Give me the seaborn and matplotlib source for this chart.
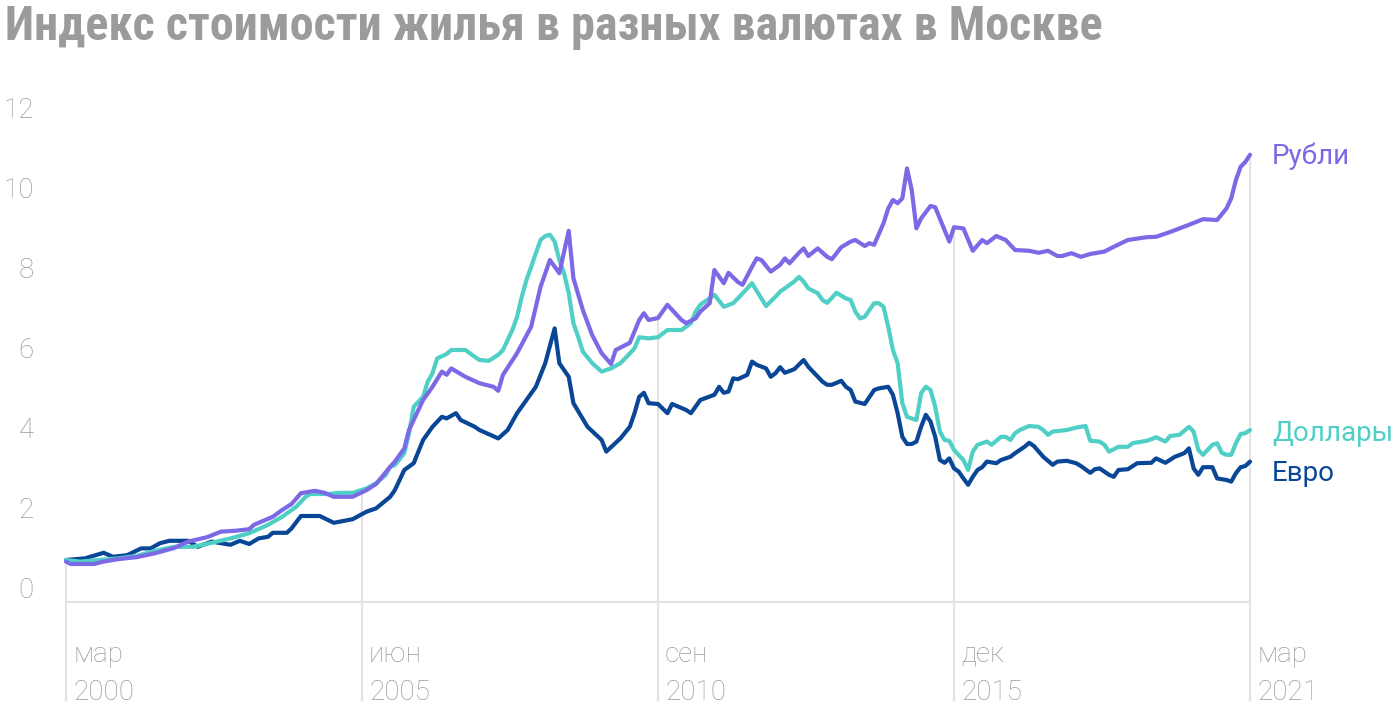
import numpy as np
import pandas as pd
import matplotlib
matplotlib.use("Agg")
import matplotlib.pyplot as plt
import seaborn as sns
from matplotlib import font_manager

# ---------------- data (months since March 2000) ----------------
rub_months = [0, 1, 6, 8, 11, 15, 19, 23, 26, 30, 33, 36, 39, 40, 44, 46, 48, 50, 53, 55,
              57, 61, 64, 66, 69, 70, 72, 73, 75, 76, 78, 80, 81, 82, 85, 88, 91, 92, 93, 96,
              99, 101, 103, 105, 107, 108, 110, 112, 114, 116, 117, 120, 122, 123, 124, 126,
              128, 131, 132, 134, 135, 137, 138, 140, 141, 143, 144, 146, 147, 148, 150, 152,
              153, 154, 156, 157, 158, 160, 162, 163, 165, 167, 168, 170, 171, 172, 174, 175,
              176, 177, 178, 179, 180, 181, 182, 184, 185, 187, 188, 189, 191, 193, 195, 196,
              198, 200, 202, 205, 207, 209, 211, 212, 214, 216, 218, 221, 223, 226, 230, 232,
              235, 239, 242, 245, 247, 248, 249, 250, 251, 252]
rub_values = [1.01, 0.95, 0.95, 1.01, 1.07, 1.12, 1.22, 1.35, 1.51, 1.62, 1.76, 1.78, 1.82, 1.93,
              2.13, 2.30, 2.45, 2.72, 2.78, 2.73, 2.63, 2.63, 2.80, 2.95, 3.38, 3.51, 3.84, 4.30,
              4.80, 5.05, 5.38, 5.76, 5.68, 5.84, 5.63, 5.47, 5.38, 5.28, 5.68, 6.22, 6.88, 7.88,
              8.55, 8.22, 9.28, 8.09, 7.30, 6.67, 6.22, 5.95, 6.30, 6.48, 7.05, 7.22, 7.05, 7.10,
              7.43, 7.05, 6.97, 7.09, 7.26, 7.47, 8.30, 7.97, 8.23, 8.00, 7.93, 8.38, 8.59, 8.55,
              8.26, 8.43, 8.59, 8.47, 8.73, 8.84, 8.65, 8.84, 8.63, 8.57, 8.87, 9.01, 9.05, 8.90,
              8.97, 8.93, 9.47, 9.84, 10.05, 9.97, 10.09, 10.84, 10.30, 9.34, 9.59, 9.90, 9.87,
              9.30, 9.01, 9.37, 9.34, 8.78, 9.05, 8.97, 9.15, 9.05, 8.80, 8.78, 8.73, 8.78, 8.65,
              8.65, 8.72, 8.63, 8.70, 8.76, 8.88, 9.05, 9.12, 9.13, 9.25, 9.43, 9.57, 9.55, 9.84,
              10.09, 10.55, 10.88, 11.00, 11.18]

usd_months = [0, 3, 7, 11, 15, 19, 23, 27, 31, 35, 39, 43, 46, 49, 51, 52, 56, 58, 61, 64,
              66, 68, 69, 70, 72, 73, 74, 76, 77, 78, 79, 81, 82, 85, 87, 88, 90, 92, 93, 94,
              95, 96, 97, 98, 99, 100, 101, 102, 103, 104, 105, 106, 107, 108, 109, 110, 112,
              114, 116, 118, 119, 121, 122, 124, 126, 128, 131, 133, 134, 135, 138, 140, 142,
              143, 145, 146, 148, 149, 151, 152, 155, 156, 157, 158, 160, 161, 162, 164, 166,
              167, 168, 169, 170, 172, 173, 174, 175, 176, 177, 178, 179, 181, 182, 183, 184,
              185, 186, 187, 188, 189, 191, 192, 193, 194, 196, 197, 199, 200, 201, 202, 203,
              205, 207, 208, 209, 210, 213, 215, 217, 218, 220, 221, 222, 224, 226, 227, 230,
              231, 232, 234, 235, 237, 239, 240, 241, 242, 244, 245, 246, 247, 248, 249, 250,
              251, 252]
usd_values = [1.05, 1.01, 1.05, 1.09, 1.15, 1.28, 1.38, 1.38, 1.48, 1.59, 1.72, 1.93, 2.13, 2.38,
              2.63, 2.70, 2.70, 2.73, 2.73, 2.84, 2.97, 3.17, 3.38, 3.42, 3.72, 4.22, 4.88, 5.13,
              5.51, 5.72, 6.09, 6.20, 6.30, 6.30, 6.13, 6.05, 6.03, 6.18, 6.30, 6.55, 6.80, 7.13,
              7.63, 8.05, 8.38, 8.72, 9.05, 9.15, 9.18, 9.01, 8.55, 8.22, 7.72, 6.97, 6.63, 6.26,
              5.97, 5.76, 5.84, 5.97, 6.09, 6.34, 6.62, 6.59, 6.62, 6.80, 6.80, 6.97, 7.26, 7.43,
              7.68, 7.38, 7.47, 7.59, 7.84, 7.97, 7.59, 7.40, 7.63, 7.76, 8.01, 8.13, 8.01, 7.84,
              7.72, 7.55, 7.48, 7.73, 7.59, 7.55, 7.26, 7.09, 7.13, 7.47, 7.47, 7.38, 6.88, 6.30,
              5.97, 4.97, 4.63, 4.55, 5.22, 5.38, 5.30, 4.88, 4.26, 4.05, 4.03, 3.80, 3.55, 3.30,
              3.76, 3.93, 4.01, 3.93, 4.13, 4.13, 4.05, 4.22, 4.30, 4.40, 4.38, 4.30, 4.18, 4.26,
              4.30, 4.36, 4.40, 4.03, 4.01, 3.93, 3.76, 3.88, 3.88, 3.97, 4.03, 4.07, 4.12, 4.01,
              4.15, 4.18, 4.38, 4.26, 3.80, 3.68, 3.93, 3.97, 3.73, 3.68, 3.68, 3.97, 4.20, 4.22,
              4.30]

eur_months = [0, 4, 8, 10, 13, 16, 18, 20, 22, 26, 28, 31, 35, 37, 39, 41, 43, 44, 47, 48,
              50, 54, 57, 61, 64, 66, 69, 70, 72, 74, 76, 78, 80, 81, 83, 84, 87, 88, 92, 94,
              96, 98, 100, 102, 104, 105, 107, 108, 111, 114, 115, 118, 120, 121, 122, 123,
              124, 126, 128, 129, 130, 132, 133, 135, 138, 139, 140, 141, 142, 143, 145, 146,
              147, 149, 150, 151, 152, 153, 155, 157, 158, 161, 162, 163, 165, 166, 167, 168,
              170, 172, 173, 175, 176, 177, 178, 179, 180, 181, 182, 183, 184, 185, 186, 187,
              188, 189, 190, 191, 192, 193, 194, 195, 196, 198, 199, 201, 202, 204, 205, 206,
              208, 210, 211, 213, 215, 216, 218, 219, 220, 222, 223, 224, 226, 228, 231, 232,
              234, 236, 238, 239, 240, 241, 242, 244, 245, 247, 248, 249, 250, 251, 252]
eur_values = [1.05, 1.09, 1.23, 1.13, 1.17, 1.34, 1.34, 1.47, 1.53, 1.53, 1.38, 1.51, 1.43, 1.53,
              1.45, 1.59, 1.63, 1.73, 1.73, 1.84, 2.15, 2.15, 1.98, 2.07, 2.26, 2.34, 2.63, 2.80,
              3.30, 3.47, 4.05, 4.38, 4.63, 4.59, 4.72, 4.55, 4.38, 4.30, 4.09, 4.30, 4.72, 5.05,
              5.38, 5.97, 6.84, 5.97, 5.63, 4.97, 4.38, 4.05, 3.76, 4.09, 4.38, 4.72, 5.13, 5.23,
              4.97, 4.95, 4.72, 4.95, 4.90, 4.80, 4.72, 5.05, 5.18, 5.38, 5.23, 5.26, 5.59, 5.57,
              5.68, 6.01, 5.93, 5.84, 5.63, 5.72, 5.87, 5.73, 5.82, 6.05, 5.88, 5.51, 5.43, 5.43,
              5.53, 5.38, 5.30, 5.01, 4.95, 5.30, 5.34, 5.38, 5.18, 4.72, 4.13, 3.95, 3.95, 4.01,
              4.38, 4.68, 4.51, 4.13, 3.55, 3.48, 3.59, 3.34, 3.26, 3.09, 2.93, 3.13, 3.30, 3.37,
              3.51, 3.47, 3.55, 3.63, 3.72, 3.88, 3.98, 3.90, 3.63, 3.43, 3.51, 3.53, 3.47, 3.40,
              3.23, 3.32, 3.34, 3.18, 3.13, 3.30, 3.32, 3.47, 3.48, 3.59, 3.48, 3.63, 3.72, 3.84,
              3.34, 3.18, 3.37, 3.37, 3.09, 3.05, 3.01, 3.22, 3.37, 3.40, 3.51]

series_names = ["Рубли", "Доллары", "Евро"]
series_colors = ["#7B69E6", "#4FCFC5", "#0A4696"]
tick_months = [0, 63, 126, 189, 252]
tick_labels = ["мар\n2000", "июн\n2005", "сен\n2010", "дек\n2015", "мар\n2021"]
y_ticks = [0, 2, 4, 6, 8, 10, 12]
title = "Индекс стоимости жилья в разных валютах в Москве"

# ---------------- style ----------------
sns.set_theme(style="white")
avail = {f.name for f in font_manager.fontManager.ttflist}
base_font = "Roboto" if "Roboto" in avail else "DejaVu Sans"
title_font = base_font
for cand in ["Roboto Condensed", "Liberation Sans Narrow", "Open Sans Condensed"]:
    if cand in avail:
        title_font = cand
        break
plt.rcParams["font.family"] = [base_font, "DejaVu Sans"]

W, H = 1400, 712
fig = plt.figure(figsize=(W / 100, H / 100), dpi=100)
fig.patch.set_facecolor("white")

X0, X1, Y0 = 66, 1250, 602          # pixel positions of plot frame
PX_PER_UNIT = 40
YMAX = 12.5
ax = fig.add_axes([X0 / W, (H - Y0) / H, (X1 - X0) / W, YMAX * PX_PER_UNIT / H])
ax.set_facecolor("none")

frames = []
for name, m, v in zip(series_names,
                      [rub_months, usd_months, eur_months],
                      [rub_values, usd_values, eur_values]):
    frames.append(pd.DataFrame({"month": m, "value": v, "series": name}))
df = pd.concat(frames, ignore_index=True)

palette = dict(zip(series_names, series_colors))
sns.lineplot(data=df, x="month", y="value", hue="series", hue_order=series_names[::-1],
             palette=palette, linewidth=3.0, legend=False, ax=ax, estimator=None)
for ln in ax.lines:
    ln.set_solid_joinstyle("round")
    ln.set_solid_capstyle("round")
    ln.set_clip_on(False)
    ln.set_zorder(3)

ax.set_xlim(0, 252)
ax.set_ylim(0, YMAX)
for s in ax.spines.values():
    s.set_visible(False)
ax.set_xticks([])
ax.set_yticks([])
ax.set_xlabel("")
ax.set_ylabel("")

grid_c = "#E4E4E4"
ybottom = -(702 - Y0) / PX_PER_UNIT
all_series = [(rub_months, rub_values), (usd_months, usd_values), (eur_months, eur_values)]
for tm in tick_months:
    top = max(np.interp(tm, mm, vv) for mm, vv in all_series)
    ax.vlines(tm, ybottom, top, color=grid_c, lw=1.6, zorder=1, clip_on=False)
ax.hlines(0, 0, 252, color=grid_c, lw=1.6, zorder=1, clip_on=False)

gray = "#9B9B9B"
# y labels (drawn slightly above their level)
for v in y_ticks:
    ypx = Y0 - PX_PER_UNIT * v - 12
    fig.text(34 / W, 1 - ypx / H, str(v), ha="right", va="center",
             fontsize=20, color=gray, fontweight="light")

# x labels, two lines, left-aligned next to gridlines
for tm, lab in zip(tick_months, tick_labels):
    xpx = X0 + (X1 - X0) * tm / 252 + 7
    l1, l2 = lab.split("\n")
    fig.text(xpx / W, 1 - 662 / H, l1, ha="left", va="baseline", fontsize=20,
             color=gray, fontweight="light")
    fig.text(xpx / W, 1 - 700 / H, l2, ha="left", va="baseline", fontsize=20,
             color=gray, fontweight="light")

# series labels
for name, col, base in zip(series_names, series_colors, [164, 441, 481]):
    fig.text(1272 / W, 1 - base / H, name, ha="left", va="baseline",
             fontsize=20, color=col)

# title
t = fig.text(5 / W, 1 - 40 / H, title, ha="left", va="baseline", fontsize=30,
             fontweight="bold", color=gray, family=[title_font, "DejaVu Sans"])
fig.canvas.draw()
bb = t.get_window_extent()
target = 1098
t.set_fontsize(30 * target / bb.width)

fig.savefig("out.png", dpi=100, facecolor="white")
